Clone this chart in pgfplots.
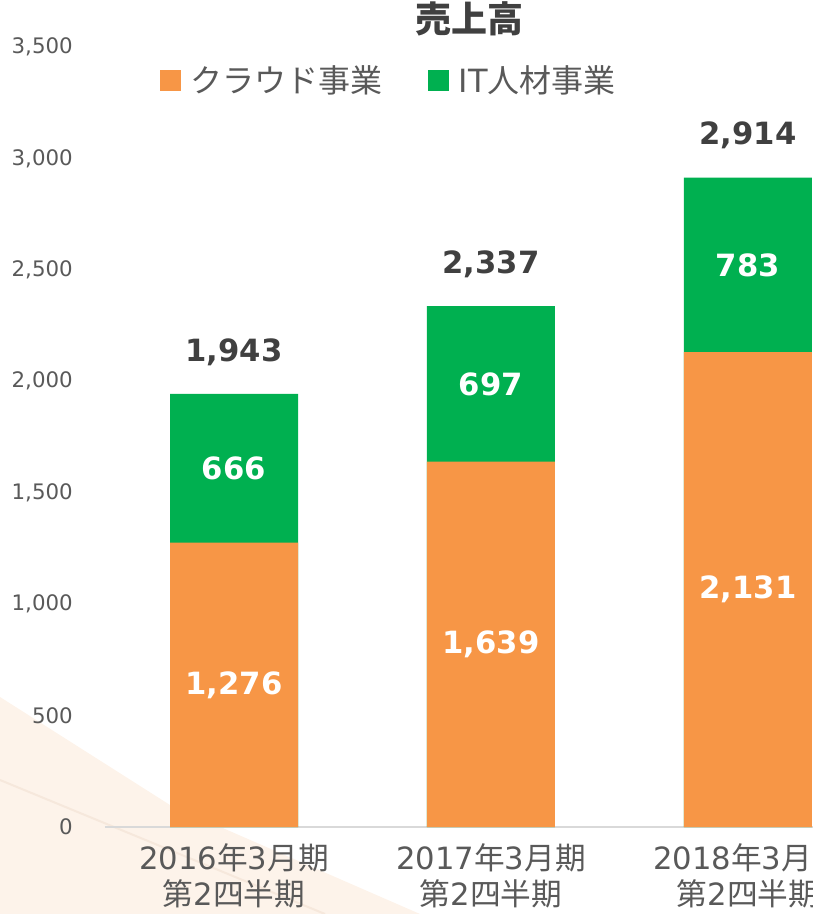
\documentclass[border=0pt]{standalone}
\usepackage{fontspec}
\setmainfont{DejaVu Sans}
\newfontfamily\cjk{Noto Sans CJK JP}
\usepackage{pgfplots}
\pgfplotsset{compat=1.18}
\definecolor{orangec}{HTML}{F79646}
\definecolor{greenc}{HTML}{00B050}
\definecolor{tickgray}{HTML}{595959}
\definecolor{labelgray}{HTML}{404040}
\definecolor{axisgray}{HTML}{D9D9D9}
\definecolor{peach}{HTML}{FDF3EA}
\definecolor{peachline}{HTML}{F6E8DC}
\newcommand\jp[1]{{\cjk #1}}

\begin{document}
\begin{tikzpicture}
% faint background swoosh (1px = 0.75pt, origin at the axis' lower left)
\fill[peach]
  (-78.75pt,97.5pt) -- (48.75pt,16.5pt) -- (236.25pt,-65.25pt) -- (-78.75pt,-65.25pt) -- cycle;
\draw[peachline, line width=1.5pt] (-78.75pt,35.25pt) -- (165pt,-65.25pt);
\begin{axis}[
    scale only axis,
    width=531pt, height=585pt,
    xmin=-0.502, xmax=2.253,
    ymin=0, ymax=3500,
    ybar, bar width=96pt,
    axis x line*=bottom, axis y line*=left,
    x axis line style={draw=axisgray, line width=1.5pt},
    y axis line style={draw=none},
    major tick length=0pt,
    xtick={0,1,2},
    xticklabels={
        {2016\jp{年}3\jp{月期}\\\jp{第}2\jp{四半期}},
        {2017\jp{年}3\jp{月期}\\\jp{第}2\jp{四半期}},
        {2018\jp{年}3\jp{月期}\\\jp{第}2\jp{四半期}}},
    xticklabel style={align=center, font=\fontsize{23}{27.5}\selectfont,
        text=tickgray, inner sep=0pt, anchor=north, yshift=-12pt},
    ytick={0,500,...,3500},
    scaled y ticks=false,
    yticklabel style={font=\fontsize{16}{19}\selectfont, text=tickgray,
        inner sep=0pt, anchor=east, xshift=-24pt,
        /pgf/number format/1000 sep={,},
        /pgf/number format/assume math mode=true},
    title={\cjk\bfseries 売上高},
    title style={at={(0.5155,1.0256)}, anchor=center,
        font=\fontsize{27}{30}\selectfont, text=labelgray},
    legend columns=2,
    legend style={at={(0.0777,0.9577)}, anchor=west, draw=none, fill=none,
        inner sep=0pt, font=\fontsize{24}{28}\selectfont, text=tickgray,
        nodes={inner sep=0pt},
        /tikz/every odd column/.append style={column sep=7.5pt},
        /tikz/every even column/.append style={column sep=34pt}},
]
% IT人材事業 drawn as the full stack height, クラウド事業 on top of it
\addplot[ybar, bar shift=0pt, fill=greenc, draw=none, forget plot,
    nodes near coords, point meta=explicit symbolic,
    every node near coord/.style={anchor=center, yshift=31.5pt, text=labelgray,
        font=\fontsize{23}{27}\selectfont\bfseries}]
    coordinates {(0,1943)[1,943] (1,2337)[2,337] (2,2914)[2,914]};
\addplot[ybar, bar shift=0pt, fill=orangec, draw=none, forget plot]
    coordinates {(0,1276) (1,1639) (2,2131)};
% segment labels
\addplot[sharp plot, draw=none, mark=none, forget plot,
    nodes near coords, point meta=explicit symbolic,
    every node near coord/.style={anchor=center, text=white,
        font=\fontsize{23}{27}\selectfont\bfseries}]
    coordinates {(0,638)[1,276] (1,819.5)[1,639] (2,1065.5)[2,131]};
\addplot[sharp plot, draw=none, mark=none, forget plot,
    nodes near coords, point meta=explicit symbolic,
    every node near coord/.style={anchor=center, text=white,
        font=\fontsize{23}{27}\selectfont\bfseries}]
    coordinates {(0,1609)[666] (1,1987.5)[697] (2,2522.5)[783]};
\addlegendimage{legend image code/.code={\fill[orangec] (0pt,-7.5pt) rectangle (15pt,7.5pt);}}
\addlegendentry{\jp{クラウド事業}}
\addlegendimage{legend image code/.code={\fill[greenc] (0pt,-7.5pt) rectangle (15pt,7.5pt);}}
\addlegendentry{IT\jp{人材事業}}
\end{axis}
\pgfresetboundingbox
\path (-78.75pt,-65.25pt) rectangle (531pt,620.25pt);
\end{tikzpicture}
\end{document}
